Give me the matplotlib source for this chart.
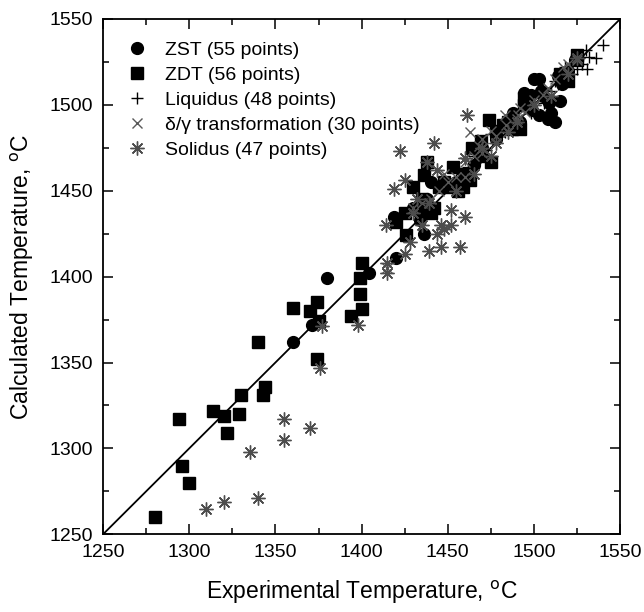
import matplotlib.pyplot as plt

plt.rcParams['font.family'] = ['Liberation Sans', 'DejaVu Sans']

# ZST measurements (experimental, calculated)
zst_exp = [1360, 1371, 1380, 1404, 1420, 1436, 1419, 1434, 1438, 1430, 1440, 1446,
           1455, 1465, 1470, 1478, 1485, 1492, 1494, 1500, 1499, 1509, 1508, 1510,
           1514, 1524, 1505, 1497, 1488, 1516, 1520, 1503, 1498, 1504, 1509, 1503,
           1512, 1515]
zst_calc = [1362, 1372, 1399, 1402, 1411, 1425, 1435, 1433, 1445, 1440, 1455, 1452,
            1455, 1465, 1475, 1480, 1488, 1490, 1507, 1515, 1497, 1503, 1492, 1495,
            1517, 1526, 1505, 1500, 1495, 1512, 1520, 1515, 1506, 1508, 1501, 1494,
            1490, 1502]

# ZDT measurements
zdt_exp = [1280, 1296, 1300, 1294, 1314, 1320, 1322, 1329, 1330, 1343, 1344, 1340,
           1360, 1370, 1374, 1375, 1374, 1394, 1400, 1399, 1399, 1400,
           1420, 1426, 1425, 1434, 1440, 1430, 1436, 1438, 1445, 1451, 1453, 1459,
           1463, 1464, 1469, 1474, 1475, 1478, 1482, 1487, 1492, 1494, 1494, 1485,
           1470, 1515, 1520, 1525, 1525, 1448, 1456, 1435, 1442, 1460]
zdt_calc = [1260, 1290, 1280, 1317, 1322, 1319, 1309, 1320, 1331, 1331, 1336, 1362,
            1382, 1380, 1385, 1374, 1352, 1377, 1381, 1390, 1399, 1408,
            1432, 1424, 1437, 1439, 1437, 1452, 1459, 1467, 1452, 1452, 1464, 1452,
            1456, 1475, 1479, 1491, 1467, 1485, 1488, 1486, 1486, 1500, 1504, 1490,
            1470, 1518, 1514, 1526, 1529, 1455, 1450, 1445, 1440, 1460]

# Liquidus
liq_exp = [1540, 1536, 1531, 1526, 1525, 1514, 1520, 1510, 1505, 1530, 1500, 1495,
           1490, 1485, 1480, 1475, 1470, 1465, 1518, 1522, 1512, 1508, 1503, 1498,
           1488, 1483, 1478, 1472, 1466, 1462, 1458, 1455, 1528, 1532, 1516, 1506]
liq_calc = [1535, 1527, 1521, 1527, 1521, 1512, 1516, 1508, 1510, 1532, 1502, 1498,
            1493, 1490, 1487, 1483, 1478, 1470, 1522, 1518, 1514, 1506, 1507, 1495,
            1489, 1484, 1480, 1474, 1466, 1464, 1460, 1456, 1524, 1528, 1519, 1501]

# delta/gamma transformation
dg_exp = [1483, 1491, 1463, 1460, 1460, 1517, 1470, 1475, 1490, 1500, 1505, 1455,
          1450, 1448, 1445, 1465, 1478, 1484, 1495, 1512, 1520, 1525, 1440, 1435,
          1430, 1415, 1470, 1468, 1492, 1508]
dg_calc = [1494, 1494, 1484, 1467, 1458, 1522, 1480, 1485, 1492, 1503, 1506, 1458,
           1455, 1460, 1450, 1470, 1482, 1488, 1496, 1515, 1524, 1526, 1445, 1443,
           1440, 1405, 1472, 1476, 1498, 1510]

# Solidus
sol_exp = [1310, 1320, 1340, 1335, 1355, 1355, 1370, 1376, 1398, 1377, 1415, 1425,
           1439, 1446, 1457, 1444, 1452, 1460, 1452, 1446, 1414, 1419, 1425, 1422,
           1442, 1438, 1461, 1439, 1460, 1432, 1448, 1415, 1430, 1444, 1465, 1470,
           1478, 1485, 1490, 1500, 1510, 1520, 1525, 1475, 1455, 1435, 1428]
sol_calc = [1265, 1269, 1271, 1298, 1317, 1305, 1312, 1347, 1372, 1371, 1402, 1413,
            1415, 1417, 1417, 1425, 1430, 1435, 1439, 1430, 1430, 1451, 1456, 1473,
            1478, 1467, 1494, 1443, 1469, 1445, 1428, 1408, 1437, 1462, 1460, 1475,
            1478, 1484, 1490, 1500, 1505, 1518, 1527, 1470, 1450, 1430, 1420]

fig = plt.figure(figsize=(6.44, 6.12), dpi=100)
ax = fig.add_axes([0.160, 0.127, 0.803, 0.842])

ax.plot([1250, 1550], [1250, 1550], color='black', linewidth=1.3, zorder=1)

ax.plot(zst_exp, zst_calc, 'o', color='black', markersize=8.5, label='ZST (55 points)', zorder=3)
ax.plot(zdt_exp, zdt_calc, 's', color='black', markersize=8, label='ZDT (56 points)', zorder=3)
ax.plot(liq_exp, liq_calc, '+', color='black', markersize=8.5, markeredgewidth=1,
        label='Liquidus (48 points)', zorder=4)
ax.plot(dg_exp, dg_calc, 'x', color='0.35', markersize=7.5, markeredgewidth=1,
        label='δ/γ transformation (30 points)', zorder=4)
ax.plot(sol_exp, sol_calc, marker=(8, 2, 0), linestyle='none', color='0.3', markersize=10,
        markeredgewidth=1, label='Solidus (47 points)', zorder=4)

ax.set_xlim(1250, 1550)
ax.set_ylim(1250, 1550)
ax.set_xticks(range(1250, 1551, 50))
ax.set_yticks(range(1250, 1551, 50))
ax.set_xticks(range(1275, 1550, 50), minor=True)
ax.set_yticks(range(1275, 1550, 50), minor=True)
ax.tick_params(which='both', direction='in', top=True, right=True, labelsize=14)
ax.tick_params(axis='x', which='major', pad=7)
ax.tick_params(axis='y', which='major', pad=7)
ax.tick_params(which='major', length=7, width=1.1)
ax.tick_params(which='minor', length=4, width=1.1)
for s in ax.spines.values():
    s.set_linewidth(1.3)

ax.set_xlabel('Experimental Temperature, $^{\\mathrm{o}}$C', fontsize=16.5, labelpad=13)
ax.set_ylabel('Calculated Temperature, $^{\\mathrm{o}}$C', fontsize=16.5, labelpad=10)

ax.legend(loc='upper left', frameon=False, fontsize=14, handletextpad=0.86,
          labelspacing=0.38, borderaxespad=0.75, borderpad=0.4, handlelength=1.2)

fig.savefig('out.png', dpi=100)
